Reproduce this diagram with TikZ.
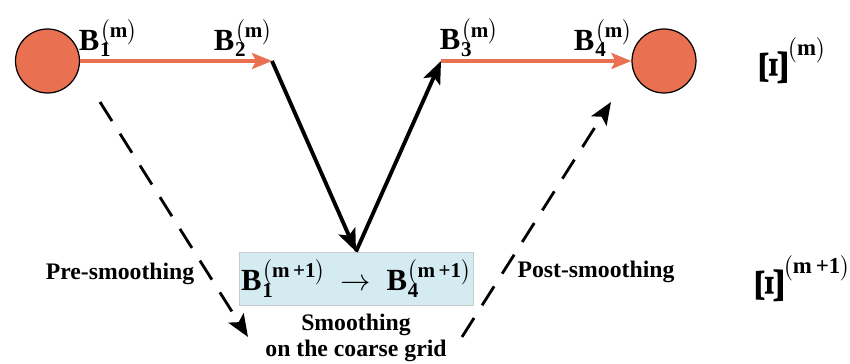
\documentclass[tikz,border=0pt]{standalone}
\usepackage{amsmath}
\usepackage{fontspec}
\setmainfont{Liberation Serif}
\usepackage{tikz}
\usetikzlibrary{arrows.meta, positioning, calc}

\definecolor{ballred}{HTML}{EA7052}
\definecolor{boxblue}{HTML}{D4EBF2}
\definecolor{boxedge}{HTML}{C8CCCC}

\newcommand{\supfont}{\fontsize{12}{12}\selectfont}
\newcommand{\bvar}[2]{\textbf{B}\hspace{0.5pt}\rlap{\raisebox{-0.22em}{\supfont\textbf{#1}}}\raisebox{0.42em}{\supfont$\bigl($\textbf{#2}$\bigr)$}}
\newcommand{\xivar}[1]{\rotatebox{90}{\scalebox{1.8}[1.35]{\textbf{Ξ}}}\raisebox{1.0em}{\fontsize{13}{13}\selectfont$\bigl($\textbf{#1}$\bigr)$}}

\begin{document}
\begin{tikzpicture}[x=0.02cm, y=-0.02cm,
    ball/.style={circle, draw, fill=ballred, minimum size=1.28cm, inner sep=0pt, line width=0.7pt},
    fine/.style={-{Stealth[length=4mm, width=3.2mm, inset=0.8mm]}, draw=ballred, line width=1.8pt},
    coarse/.style={-{Stealth[length=4.5mm, width=3.6mm, inset=1mm]}, line width=2.2pt},
    smooth/.style={-{Stealth[length=4.5mm, width=3.6mm, inset=1mm]}, line width=1.6pt, dash pattern=on 0.45cm off 0.3cm},
    label/.style={font=\fontsize{17.5}{20}\selectfont\bfseries, inner sep=0pt},
    caption/.style={font=\fontsize{13.5}{16}\selectfont\bfseries, align=center, inner sep=0pt},
]
  \useasboundingbox (0,0) rectangle (850,364);

  % fine grid level
  \node[ball] (start) at (47.5,61) {};
  \node[ball] (finish) at (664,61) {};
  \coordinate (b2) at (272,61);
  \coordinate (b3) at (441,61);
  \draw[fine] (start) -- (b2);
  \draw[fine] (b3) -- (finish);

  \node[label] (lb1) at (108,38) {\bvar{1}{m}};
  \node[label] (lb2) at (243,38) {\bvar{2}{m}};
  \node[label] (lb3) at (469,38) {\bvar{3}{m}};
  \node[label] (lb4) at (603,38) {\bvar{4}{m}};

  % coarse grid level
  \node[draw=boxedge, fill=boxblue, minimum width=4.68cm, minimum height=1.06cm, label] (coarse) at (356,278.5)
    {\bvar{1}{m\,+1}\ \ $\rightarrow$\ \ \bvar{4}{m\,+1}};
  \node[caption] (ctext) at (356,338) {Smoothing\\[-1pt]on the coarse grid};

  \draw[coarse] (b2) -- (coarse.north);
  \draw[coarse] (coarse.north) -- (b3);

  % smoothing steps
  \coordinate (pre-a) at (100,102);
  \coordinate (pre-b) at (248,337);
  \coordinate (post-a) at (462,337);
  \coordinate (post-b) at (611,102);
  \draw[smooth] (pre-a) -- (pre-b);
  \draw[smooth] (post-a) -- (post-b);

  \node[caption] (pre) at (120,274) {Pre-smoothing};
  \node[caption] (post) at (596,272) {Post-smoothing};

  % levels
  \node[label] (xi1) at (793,62) {\xivar{m}};
  \node[label] (xi2) at (803,280) {\xivar{m\,+1}};
\end{tikzpicture}
\end{document}
